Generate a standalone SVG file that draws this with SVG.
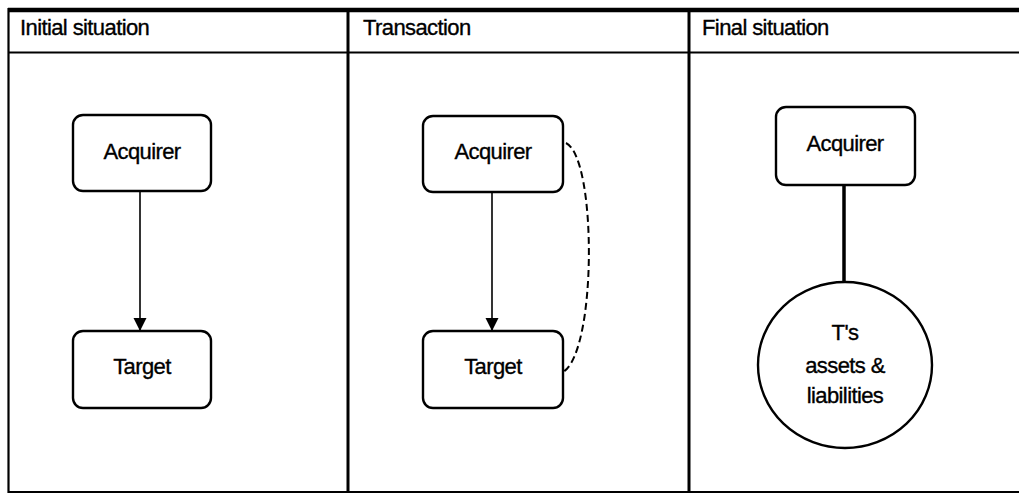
<svg xmlns="http://www.w3.org/2000/svg" width="1019" height="494" viewBox="0 0 1019 494">
<style>
.t{font-family:"Liberation Sans",Arial,sans-serif;font-size:22px;letter-spacing:-0.6px;fill:#000;stroke:#000;stroke-width:0.35}
.c{text-anchor:middle}
.box{fill:#fff;stroke:#000;stroke-width:2.4}
.ln{stroke:#000;fill:none}
</style>
<defs>
<marker id="ah" markerWidth="14" markerHeight="14" refX="13" refY="7" orient="auto" markerUnits="userSpaceOnUse">
<path d="M0,0.5 L13,7 L0,13.5 Z" fill="#000"/>
</marker>
</defs>
<rect width="1019" height="494" fill="#fff"/>
<g id="frame">
<line class="ln" x1="8" y1="10" x2="1019" y2="10" stroke-width="4.5"/>
<line class="ln" x1="8" y1="52.5" x2="1019" y2="52.5" stroke-width="2.2"/>
<line class="ln" x1="8" y1="492" x2="1019" y2="492" stroke-width="2.2"/>
<line class="ln" x1="8.5" y1="8" x2="8.5" y2="493" stroke-width="2.2"/>
<line class="ln" x1="348" y1="8" x2="348" y2="493" stroke-width="3"/>
<line class="ln" x1="689" y1="8" x2="689" y2="493" stroke-width="3"/>
<text class="t" x="20" y="35">Initial situation</text>
<text class="t" x="363" y="35">Transaction</text>
<text class="t" x="702" y="35">Final situation</text>
</g>
<g id="connectors">
<line class="ln" x1="140" y1="191" x2="140" y2="331" stroke-width="1.6" marker-end="url(#ah)"/>
<line class="ln" x1="492" y1="192" x2="492" y2="331" stroke-width="1.6" marker-end="url(#ah)"/>
<path class="ln" d="M566,143 C597,158 597,352 563,372" stroke-width="2" stroke-dasharray="7,4"/>
<line class="ln" x1="844" y1="185" x2="844" y2="283" stroke-width="3.5"/>
</g>
<g id="n1-acquirer"><rect class="box" x="73" y="115" width="138" height="76" rx="10"/><text class="t c" x="142" y="159">Acquirer</text></g>
<g id="n1-target"><rect class="box" x="73" y="331" width="138" height="77" rx="10"/><text class="t c" x="142" y="374">Target</text></g>
<g id="n2-acquirer"><rect class="box" x="423" y="116" width="140" height="76" rx="10"/><text class="t c" x="493" y="159">Acquirer</text></g>
<g id="n2-target"><rect class="box" x="423" y="331" width="140" height="77" rx="10"/><text class="t c" x="493" y="374">Target</text></g>
<g id="n3-acquirer"><rect class="box" x="776" y="107" width="139" height="78" rx="10"/><text class="t c" x="845" y="151">Acquirer</text></g>
<g id="n3-assets"><ellipse class="box" cx="845" cy="365" rx="87" ry="83"/>
<text class="t c" x="845" y="340">T's</text>
<text class="t c" x="845" y="373">assets &amp;</text>
<text class="t c" x="845" y="403">liabilities</text></g>
</svg>
